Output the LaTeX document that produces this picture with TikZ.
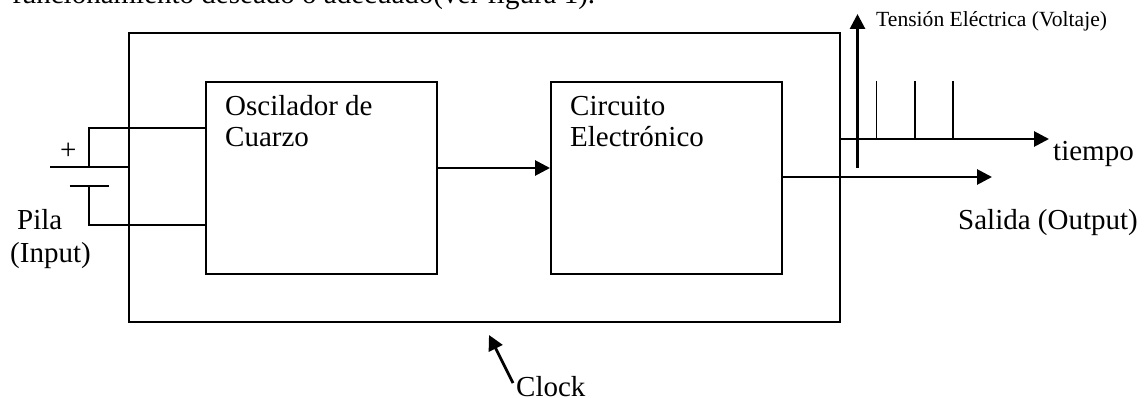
\documentclass[tikz,border=0pt]{standalone}
\usepackage{fontspec}
\setmainfont{Liberation Serif}
\usetikzlibrary{arrows.meta}
\tikzset{
  blockbox/.style={draw=black,line width=2pt,inner sep=0pt,anchor=north west},
  wire/.style={draw=black,line width=2.4pt},
  thinline/.style={draw=black,line width=1.8pt},
  arrowline/.style={draw=black,line width=2.8pt,-{Triangle[length=15pt,width=15pt]},shorten <=0pt},
  lbl/.style={inner sep=0pt,anchor=base west,font=\fontsize{29}{32}\selectfont,text=black},
  small/.style={inner sep=0pt,anchor=base west,font=\fontsize{21.6}{24}\selectfont,text=black}
}
\begin{document}
\begin{tikzpicture}[x=1pt,y=-1pt]
\useasboundingbox (0,0) rectangle (1145,398);
\node[lbl] (top) at (12,4) {funcionamiento deseado o adecuado(ver figura 1).};
\node[blockbox,minimum width=711pt,minimum height=288.5pt] (outer) at (127.5,32.5) {};
\node[blockbox,minimum width=231.5pt,minimum height=192pt] (osc) at (204.5,81) {};
\node[blockbox,minimum width=231pt,minimum height=192pt] (cir) at (550,81) {};
\node[lbl] (osct1) at (225,116) {Oscilador de};
\node[lbl] (osct2) at (225,147) {Cuarzo};
\node[lbl] (cirt1) at (570,116) {Circuito};
\node[lbl] (cirt2) at (570,147) {Electrónico};
% battery
\coordinate (pa) at (50,167);
\coordinate (pb) at (89,167);
\coordinate (pc) at (127.5,167);
\coordinate (na) at (69.5,186);
\coordinate (nb) at (89,186);
\coordinate (nc) at (109,186);
\coordinate (tc) at (89,128);
\coordinate (bc) at (89,225);
\draw[thinline] (pa) -- (pc);
\draw[wire] (70,167) -- (pb);
\draw[wire] (na) -- (nc);
\draw[wire] (osc.west |- tc) -- (tc) -- (pb);
\draw[wire] (osc.west |- bc) -- (bc) -- (nb);
\node[lbl] (plus) at (60,160) {+};
\node[lbl] (pila) at (17,229) {Pila};
\node[lbl] (input) at (10,262) {(Input)};
% connectors
\draw[arrowline] (osc.east |- 0,168) -- (cir.west |- 0,168);
\coordinate (outtip) at (992,177);
\draw[arrowline] (cir.east |- outtip) -- (outtip);
\coordinate (timetip) at (1049,139);
\draw[arrowline] (outer.east |- timetip) -- (timetip);
\coordinate (vbot) at (857.5,168);
\coordinate (vtip) at (857.5,14);
\draw[arrowline] (vbot) -- (vtip);
\foreach \n/\x in {a/876.5,b/915,c/953}{
  \coordinate (tick\n) at (\x,81);
  \draw[thinline] (tick\n) -- (\x,139);
}
\node[small] (volt) at (876,27) {Tensión Eléctrica (Voltaje)};
\node[lbl] (tiempo) at (1053,161) {tiempo};
\node[lbl] (salida) at (958,229) {Salida (Output)};
\node[lbl] (clock) at (516,396) {Clock};
\coordinate (clktail) at (513,383);
\coordinate (clktip) at (489,335);
\draw[arrowline] (clktail) -- (clktip);
\end{tikzpicture}
\end{document}
